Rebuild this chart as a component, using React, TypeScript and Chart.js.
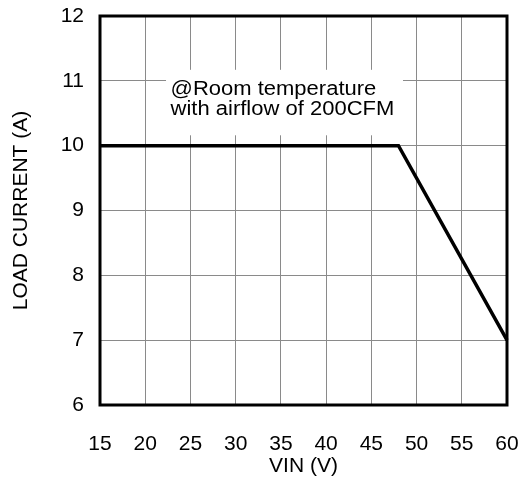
import React, { useEffect, useRef } from "react";
import { Chart, registerables } from "chart.js";

Chart.register(...registerables);

const vin: number[] = [15, 48, 60];
const loadCurrent: number[] = [10, 10, 7];
const xTicks: number[] = [15, 20, 25, 30, 35, 40, 45, 50, 55, 60];
const yTicks: number[] = [6, 7, 8, 9, 10, 11, 12];
const noteLines: string[] = ["@Room temperature", "with airflow of 200CFM"];
// note box in data units
const noteBoxX: number[] = [22.3, 48.5];
const noteBoxY: number[] = [10.16, 11.17];
const noteTextX = 22.8;

const FONT = "'Liberation Sans', Arial, Helvetica, sans-serif";

const framePlugin = {
  id: "frame",
  beforeDatasetsDraw(chart: any) {
    const { ctx, scales } = chart;
    const x = scales.x, y = scales.y;
    const x0 = x.getPixelForValue(noteBoxX[0]);
    const x1 = x.getPixelForValue(noteBoxX[1]);
    const y0 = y.getPixelForValue(noteBoxY[1]);
    const y1 = y.getPixelForValue(noteBoxY[0]);
    ctx.save();
    ctx.fillStyle = "#ffffff";
    ctx.fillRect(x0, y0, x1 - x0, y1 - y0);
    ctx.fillStyle = "#000000";
    ctx.font = `20px ${FONT}`;
    ctx.textAlign = "left";
    ctx.textBaseline = "alphabetic";
    const tx = x.getPixelForValue(noteTextX);
    const baseY = y0 + 25.5;
    noteLines.forEach((line, i) => {
      ctx.save();
      ctx.translate(tx, baseY + i * 20);
      ctx.scale(1.1, 1);
      ctx.fillText(line, 0, 0);
      ctx.restore();
    });
    ctx.restore();
  },
  afterDraw(chart: any) {
    const { ctx, chartArea } = chart;
    ctx.save();
    ctx.strokeStyle = "#000000";
    ctx.lineWidth = 3;
    ctx.strokeRect(chartArea.left, chartArea.top, chartArea.right - chartArea.left, chartArea.bottom - chartArea.top);
    ctx.restore();
  },
};

export default function App() {
  const ref = useRef<HTMLCanvasElement | null>(null);
  useEffect(() => {
    document.body.style.margin = "0";
    if (!ref.current) return;
    const chart = new Chart(ref.current, {
      type: "line",
      data: {
        datasets: [
          {
            data: vin.map((v, i) => ({ x: v, y: loadCurrent[i] })),
            borderColor: "#000000",
            borderWidth: 3.5,
            pointRadius: 0,
            fill: false,
            tension: 0,
            clip: false as any,
          },
        ],
      },
      options: {
        animation: false,
        responsive: false,
        events: [],
        layout: { padding: { top: 16, right: 12, left: 0, bottom: 0 } },
        plugins: { legend: { display: false }, tooltip: { enabled: false } },
        scales: {
          x: {
            type: "linear",
            min: 15,
            max: 60,
            afterBuildTicks: (s: any) => {
              s.ticks = xTicks.map((v) => ({ value: v }));
            },
            afterFit: (s: any) => {
              s.height = 78;
              s.paddingLeft = 0;
              s.paddingRight = 0;
              s.paddingTop = 0;
              s.paddingBottom = 0;
            },
            grid: { color: "#8a8a8a", lineWidth: 1, drawTicks: false },
            border: { display: false },
            ticks: {
              color: "#000000",
              padding: 26.5,
              maxRotation: 0,
              autoSkip: false,
              font: { family: FONT, size: 21 },
            },
            title: {
              display: true,
              text: "VIN (V)",
              color: "#000000",
              font: { family: FONT, size: 21 },
              padding: { top: 0, bottom: 4.5 },
            },
          },
          y: {
            type: "linear",
            min: 6,
            max: 12,
            afterBuildTicks: (s: any) => {
              s.ticks = yTicks.map((v) => ({ value: v }));
            },
            afterFit: (s: any) => {
              s.width = 100;
              s.paddingLeft = 0;
              s.paddingRight = 0;
              s.paddingTop = 0;
              s.paddingBottom = 0;
            },
            grid: { color: "#8a8a8a", lineWidth: 1, drawTicks: false },
            border: { display: false },
            ticks: {
              color: "#000000",
              padding: 16,
              autoSkip: false,
              font: { family: FONT, size: 21 },
            },
            title: {
              display: true,
              text: "LOAD CURRENT (A)",
              color: "#000000",
              font: { family: FONT, size: 21 },
              padding: { top: 8.5, bottom: 0 },
            },
          },
        },
      },
      plugins: [framePlugin],
    });
    return () => chart.destroy();
  }, []);
  return (
    <div style={{ width: 519, height: 483, background: "#ffffff" }}>
      <canvas ref={ref} width={519} height={483} style={{ display: "block" }} />
    </div>
  );
}
